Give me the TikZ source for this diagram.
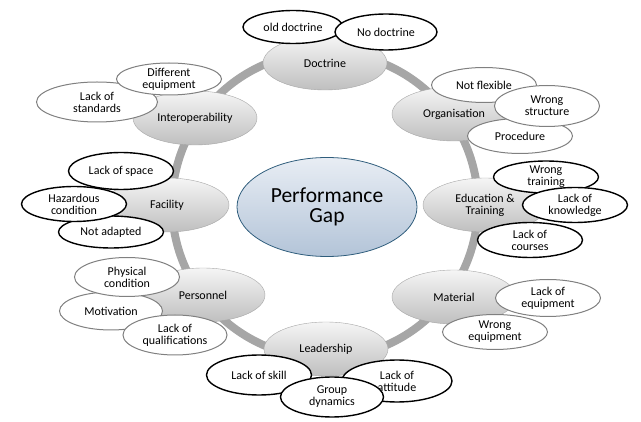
\documentclass[tikz,border=0pt]{standalone}
\usepackage{fontspec}
\setmainfont{Carlito}
\usepackage{tikz}
\usetikzlibrary{shapes.geometric, backgrounds}
\definecolor{gapline}{HTML}{2F5D7C}
\definecolor{gaptop}{HTML}{E8EDF4}
\definecolor{gapbottom}{HTML}{B3C4D8}
\tikzset{areanode/.style = {ellipse,draw=gray!70,top color=gray!8,bottom color=gray!50,
		minimum width=124pt,minimum height=54pt,inner sep=0pt,align=center}}
\tikzset{causebold/.style = {ellipse,draw=black,line width=1.4pt,fill=white,
		minimum width=105pt,minimum height=36pt,inner sep=0pt,align=center}}
\tikzset{causethin/.style = {ellipse,draw=gray,line width=1pt,fill=white,
		minimum width=105pt,minimum height=36pt,inner sep=0pt,align=center}}
\tikzset{gapnode/.style = {ellipse,draw=gapline,line width=0.8pt,top color=gaptop,bottom color=gapbottom,
		minimum width=180pt,minimum height=99pt,inner sep=0pt,align=center,
		font=\fontsize{21.5}{20}\selectfont}}

\begin{document}
\begin{tikzpicture}[x=1pt,y=-1pt,font=\fontsize{12}{12}\selectfont]
\useasboundingbox (0,0) rectangle (641,422);
\draw[gray!70,line width=8pt] (325,205) circle[radius=153];
% areas round the ring
\node[areanode] (doctrine) at (325,63) {Doctrine};
\node[areanode] (organisation) at (454,114) {Organisation};
\node[areanode] (education) at (485,205) {Education \&\\Training};
\node[areanode] (material) at (454,297) {Material};
\node[areanode] (leadership) at (326,349) {Leadership};
\node[areanode] (personnel) at (203,295) {Personnel};
\node[areanode] (facility) at (167,205) {Facility};
\node[areanode] (interop) at (195,118) {Interoperability};
\node[gapnode] (gap) at (327,207) {Performance\\Gap};
% causes
\node[causebold,minimum width=100pt,minimum height=33pt] (olddoc) at (293,27) {old doctrine};
\node[causebold,minimum width=102pt] (nodoc) at (386,32) {No doctrine};
\node[causethin,minimum height=35pt] (notflex) at (484,85) {Not flexible};
\node[causethin,minimum height=35pt] (proc) at (520,136) {Procedure};
\node[causethin,minimum height=41pt] (wrongstruct) at (547,106) {Wrong\\structure};
\node[causebold,minimum height=32pt] (wrongtrain) at (546,177) {Wrong\\training};
\node[causebold,minimum height=35pt] (lackknow) at (575,205) {Lack of\\knowledge};
\node[causebold,minimum height=35pt] (lackcourse) at (530,240) {Lack of\\courses};
\node[causethin,minimum height=37pt] (lackequip) at (548,298) {Lack of\\equipment};
\node[causethin,minimum height=35pt] (wrongequip) at (495,332) {Wrong\\equipment};
\node[causebold,minimum height=40pt] (lackskill) at (259,375) {Lack of skill};
\node[causebold,minimum width=110pt,minimum height=42pt] (lackatt) at (397,381) {Lack of\\attitude};
\node[causebold,minimum width=103pt,minimum height=40pt] (groupdyn) at (332,397) {Group\\dynamics};
\node[causethin,minimum width=103pt,minimum height=38pt] (motiv) at (111,311) {Motivation};
\node[causethin,minimum height=39pt] (physcond) at (127,277) {Physical\\condition};
\node[causethin,minimum width=104pt,minimum height=40pt] (lackqual) at (175,335) {Lack of\\qualifications};
\node[causebold,minimum height=37pt] (lackspace) at (121,171) {Lack of space};
\node[causebold,minimum height=32pt] (notadapt) at (111,232) {Not adapted};
\node[causebold,minimum height=35pt] (hazard) at (74,204) {Hazardous\\condition};
\node[causethin,minimum width=121pt,minimum height=40pt] (lackstd) at (97,102) {Lack of\\standards};
\node[causethin,minimum height=32pt] (diffequip) at (169,79) {Different\\equipment};
\end{tikzpicture}
\end{document}
